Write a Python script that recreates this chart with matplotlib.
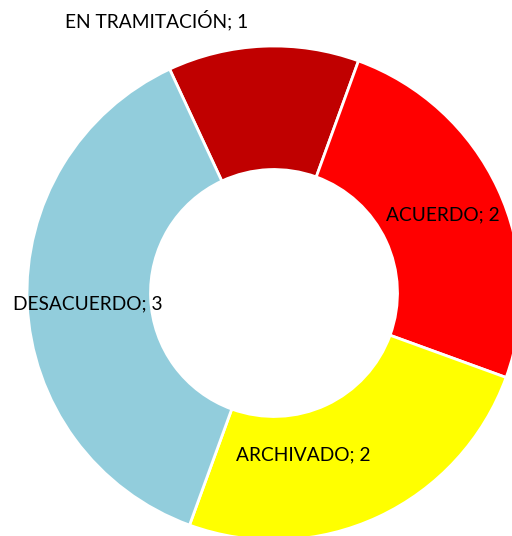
import numpy as np
import matplotlib.pyplot as plt

categorias = ['EN TRAMITACIÓN', 'ACUERDO', 'ARCHIVADO', 'DESACUERDO']
valores = [1, 2, 2, 3]
colores = ['#C00000', '#FF0000', '#FFFF00', '#92CDDC']

# posiciones de las etiquetas (coordenadas del eje)
pos_etiquetas = [(-0.474, 1.105), (0.684, 0.316), (0.117, -0.656), (-0.753, -0.045)]

plt.rcParams['font.family'] = ['Lato', 'DejaVu Sans']

fig = plt.figure(figsize=(5.12, 5.36), dpi=100)
ax = fig.add_axes([27 / 512, -4 / 536, 494 / 512, 494 / 536])

ax.pie(valores, colors=colores, startangle=115, counterclock=False, radius=1,
       wedgeprops=dict(width=0.5, edgecolor='white', linewidth=2))

for cat, val, (x, y) in zip(categorias, valores, pos_etiquetas):
    ax.text(x, y, f'{cat}; {val}', ha='center', va='center', fontsize=13.8,
            color='black', clip_on=False)

ax.set_xlim(-1, 1)
ax.set_ylim(-1, 1)
ax.set_aspect('equal')
ax.axis('off')

fig.savefig('out.png', dpi=100)
